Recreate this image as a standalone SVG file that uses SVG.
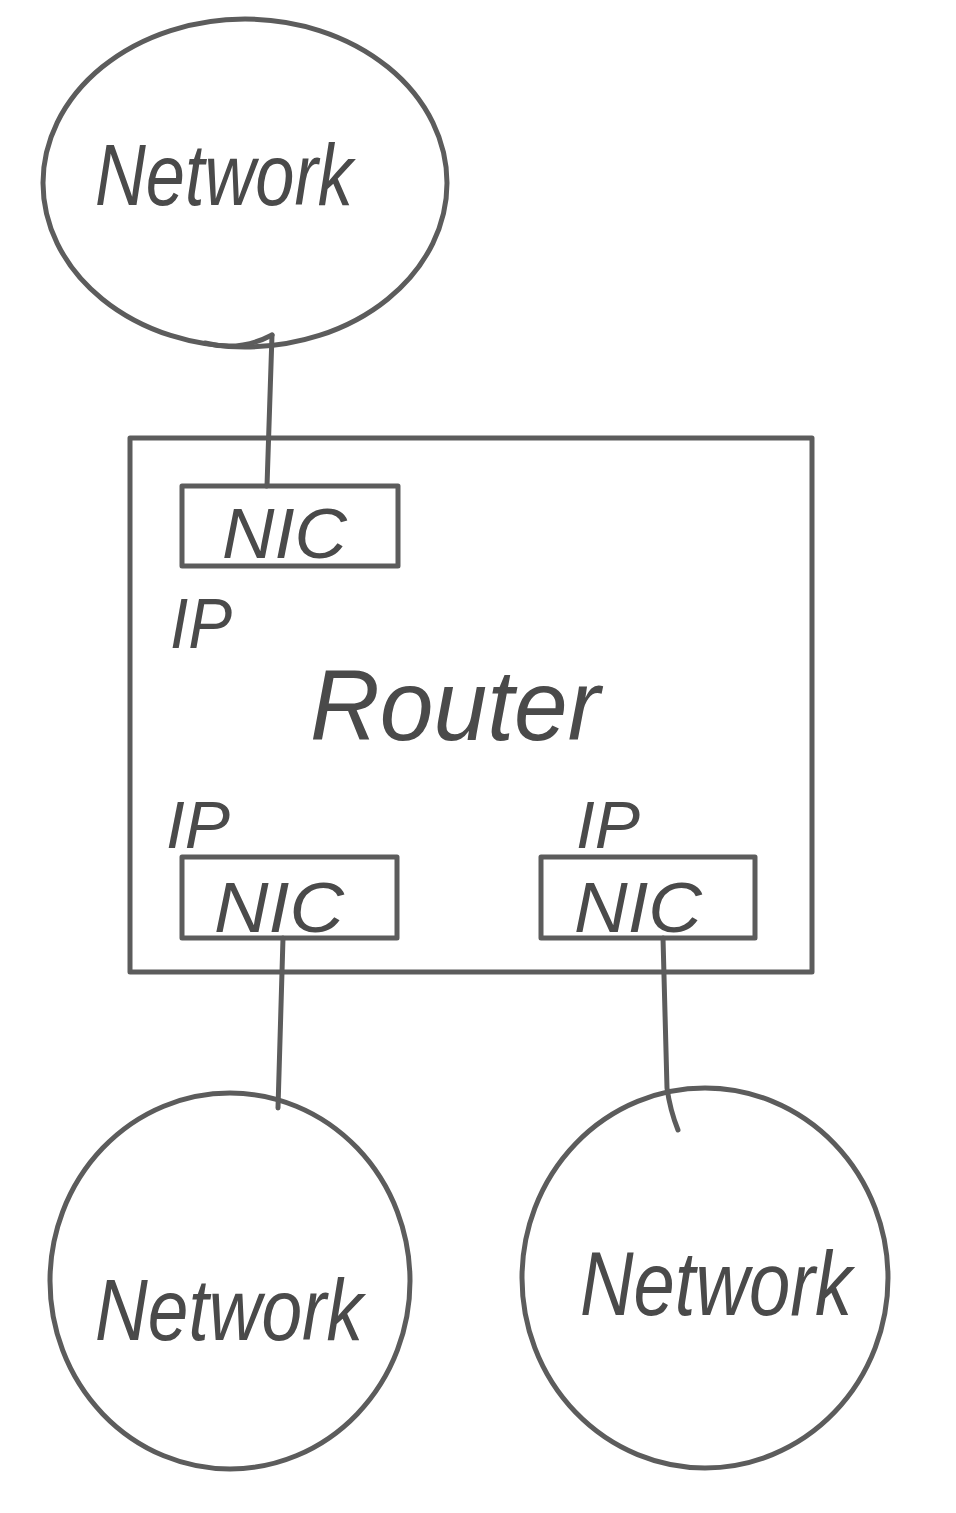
<svg xmlns="http://www.w3.org/2000/svg" width="956" height="1513" viewBox="0 0 956 1513">
<style>
.s{fill:none;stroke:#5c5c5c;stroke-width:5;stroke-linecap:round;stroke-linejoin:round}
.t{font-family:"Liberation Sans",Arial,sans-serif;font-style:italic;fill:#4a4a4a;text-anchor:start}
</style>
<rect width="956" height="1513" fill="#ffffff"/>
<g id="network-top">
<ellipse class="s" cx="245" cy="183" rx="202" ry="164"/>
<text class="t" x="95" y="205" font-size="88" textLength="258" lengthAdjust="spacingAndGlyphs">Network</text>
</g>
<g id="router">
<rect class="s" x="130" y="438" width="682" height="534"/>
<text class="t" x="310" y="740" font-size="100" textLength="290" lengthAdjust="spacingAndGlyphs">Router</text>
</g>
<g id="nic-top">
<rect class="s" x="182" y="486" width="216" height="80"/>
<text class="t" x="222" y="558" font-size="70" textLength="125" lengthAdjust="spacingAndGlyphs">NIC</text>
<text class="t" x="170" y="648" font-size="70" textLength="62" lengthAdjust="spacingAndGlyphs">IP</text>
</g>
<g id="nic-bottom-left">
<rect class="s" x="182" y="857" width="215" height="81"/>
<text class="t" x="214" y="932" font-size="70" textLength="130" lengthAdjust="spacingAndGlyphs">NIC</text>
<text class="t" x="166" y="848" font-size="66" textLength="64" lengthAdjust="spacingAndGlyphs">IP</text>
</g>
<g id="nic-bottom-right">
<rect class="s" x="541" y="857" width="214" height="81"/>
<text class="t" x="574" y="932" font-size="70" textLength="128" lengthAdjust="spacingAndGlyphs">NIC</text>
<text class="t" x="576" y="848" font-size="66" textLength="64" lengthAdjust="spacingAndGlyphs">IP</text>
</g>
<g id="network-bottom-left">
<ellipse class="s" cx="230" cy="1281" rx="180" ry="188"/>
<text class="t" x="95" y="1340" font-size="88" textLength="268" lengthAdjust="spacingAndGlyphs">Network</text>
</g>
<g id="network-bottom-right">
<ellipse class="s" cx="705" cy="1278" rx="183" ry="190"/>
<text class="t" x="580" y="1315" font-size="90" textLength="272" lengthAdjust="spacingAndGlyphs">Network</text>
</g>
<g id="connectors">
<path class="s" d="M272 335 L267 486"/>
<path class="s" d="M205 343 Q240 352 272 335"/>
<path class="s" d="M283 938 L278 1108"/>
<path class="s" d="M663 938 L667 1088 Q670 1110 678 1130"/>
</g>
</svg>
